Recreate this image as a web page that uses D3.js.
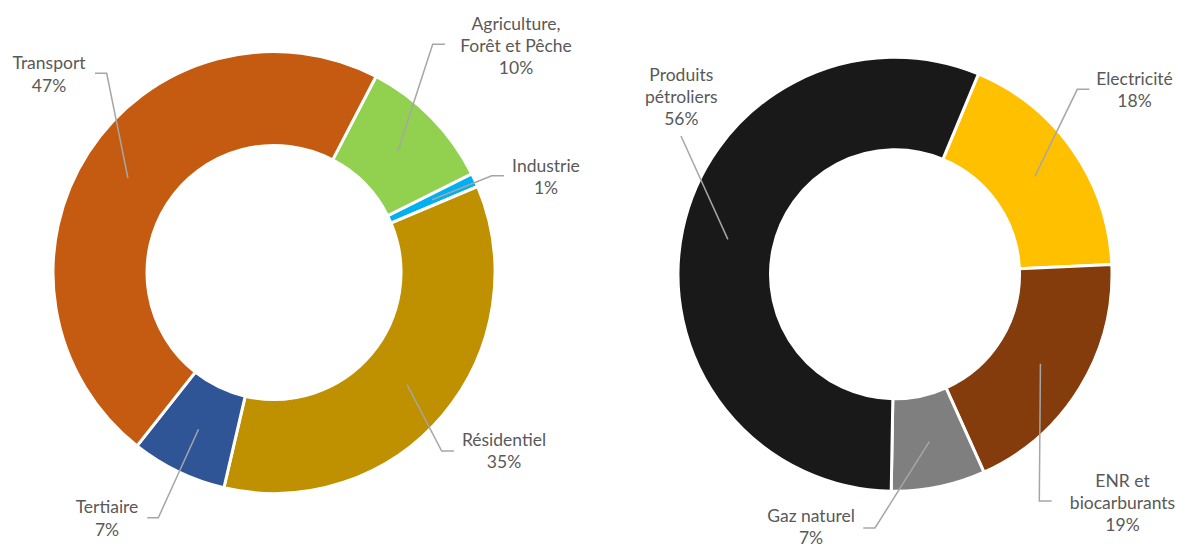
<!DOCTYPE html>
<html lang="fr">
<head>
<meta charset="utf-8">
<script src="https://cdn.jsdelivr.net/npm/d3@7"></script>
<style>
  html, body { margin: 0; padding: 0; background: #ffffff; }
  svg { display: block; }
  .lbl { font-family: Lato, "Open Sans", sans-serif; font-size: 17.5px; fill: #595959; }
</style>
</head>
<body>
<svg id="chart" width="1177" height="547"></svg>
<script>
// Consommation finale par secteur (%)
const sectorNames = ["Agriculture,\nForêt et Pêche", "Industrie", "Résidentiel", "Tertiaire", "Transport"];
const sectorShares = [10, 1, 35, 7, 47];
const sectorColors = ["#92D050", "#00B0F0", "#BF9000", "#2F5597", "#C55A11"];

// Consommation finale par énergie (%)
const energyNames = ["Electricité", "ENR et\nbiocarburants", "Gaz naturel", "Produits\npétroliers"];
const energyShares = [18, 19, 7, 56];
const energyColors = ["#FFC000", "#843C0C", "#7F7F7F", "#191919"];

// Label placement: text centre x, first baseline y, and the short horizontal
// elbow of the leader line (x where the elbow starts and ends, y of the elbow).
const sectorLabelPos = [
  { x: 516, y: 29.5, ex0: 432.7, ex1: 445, ey: 44.3 },
  { x: 546, y: 171.7, ex0: 491.7, ex1: 504, ey: 175.7 },
  { x: 504, y: 446, ex0: 441.7, ex1: 454, ey: 451 },
  { x: 107, y: 513.3, ex0: 158.3, ex1: 147.3, ey: 517.7 },
  { x: 49, y: 69.3, ex0: 106.7, ex1: 95, ey: 73.3 }
];
const energyLabelPos = [
  { x: 1134.5, y: 85, ex0: 1077.3, ex1: 1089.3, ey: 89.3 },
  { x: 1122.5, y: 486.5, ex0: 1039.3, ex1: 1051.7, ey: 501 },
  { x: 811, y: 521.8, ex0: 875, ex1: 863.3, ey: 528 },
  { x: 681.3, y: 80.7, ex0: 681, ex1: 681, ey: 136 }
];

const svg = d3.select("#chart");
const lineH = 22.2;

function donut({ cx, cy, outer, inner, startDeg, names, shares, colors, labelPos }) {
  const g = svg.append("g");
  const start = startDeg * Math.PI / 180;
  const pie = d3.pie().sort(null).value(d => d)
    .startAngle(start).endAngle(start + 2 * Math.PI);
  const arcs = pie(shares);
  const arc = d3.arc().innerRadius(inner).outerRadius(outer);

  const ring = g.append("g").attr("transform", `translate(${cx},${cy})`);
  ring.selectAll("path")
    .data(arcs)
    .join("path")
    .attr("d", arc)
    .attr("fill", (d, i) => colors[i])
    .attr("stroke", "#ffffff")
    .attr("stroke-width", 3)
    .attr("stroke-linejoin", "miter");

  // leader lines from the middle of each segment to its label
  arcs.forEach((d, i) => {
    const [mx, my] = arc.centroid(d);
    const p = labelPos[i];
    const pts = [[cx + mx, cy + my], [p.ex0, p.ey], [p.ex1, p.ey]];
    g.append("path")
      .attr("d", d3.line()(pts))
      .attr("fill", "none")
      .attr("stroke", "#A6A6A6")
      .attr("stroke-width", 1.5);
  });

  // labels: name lines followed by the share
  arcs.forEach((d, i) => {
    const p = labelPos[i];
    const lines = names[i].split("\n").concat([`${shares[i]}%`]);
    const t = g.append("text")
      .attr("class", "lbl")
      .attr("text-anchor", "middle")
      .attr("x", p.x)
      .attr("y", p.y);
    lines.forEach((s, k) => {
      t.append("tspan").attr("x", p.x).attr("y", p.y + k * lineH).text(s);
    });
  });
}

donut({
  cx: 274, cy: 272.5, outer: 221, inner: 127, startDeg: 27.5,
  names: sectorNames, shares: sectorShares, colors: sectorColors, labelPos: sectorLabelPos
});

donut({
  cx: 895, cy: 274.3, outer: 217, inner: 124.5, startDeg: 22.6,
  names: energyNames, shares: energyShares, colors: energyColors, labelPos: energyLabelPos
});
</script>
</body>
</html>
